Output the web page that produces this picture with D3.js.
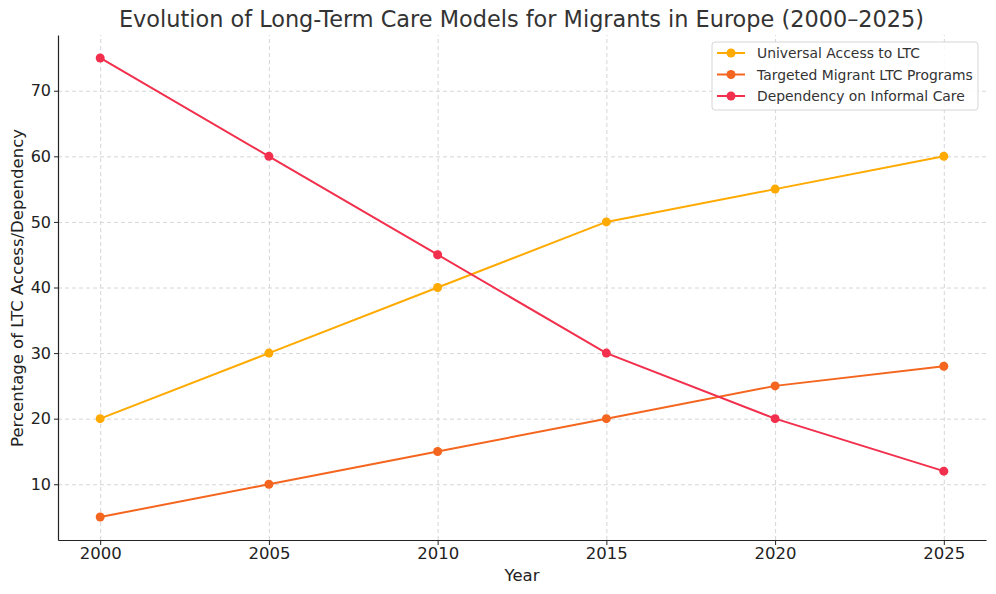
<!DOCTYPE html>
<html>
<head>
<meta charset="utf-8">
<script src="https://cdn.jsdelivr.net/npm/d3@7"></script>
<style>
  body { margin: 0; background: #fff; }
  svg { font-family: "DejaVu Sans", sans-serif; }
  .grid line { stroke: #cccccc; stroke-dasharray: 4,3; stroke-width: 0.8; }
  .grid path { display: none; }
</style>
</head>
<body>
<svg id="chart" width="996" height="594"></svg>
<script>
// data
const years = [2000, 2005, 2010, 2015, 2020, 2025];
const universalAccess = [20, 30, 40, 50, 55, 60];
const targetedPrograms = [5, 10, 15, 20, 25, 28];
const informalCare = [75, 60, 45, 30, 20, 12];
const yTicks = [10, 20, 30, 40, 50, 60, 70];

const seriesList = [
  { name: "Universal Access to LTC", values: universalAccess, color: "#ffaa00" },
  { name: "Targeted Migrant LTC Programs", values: targetedPrograms, color: "#f4661f" },
  { name: "Dependency on Informal Care", values: informalCare, color: "#f2304d" }
];

const svg = d3.select("#chart");
const m = { left: 58, right: 986, top: 35, bottom: 540 };

const x = d3.scaleLinear().domain([1998.75, 2026.25]).range([m.left, m.right]);
const y = d3.scaleLinear().domain([1.5, 78.5]).range([m.bottom, m.top]);

// grid
svg.append("g").attr("class", "grid")
  .attr("transform", `translate(0,${m.bottom})`)
  .call(d3.axisBottom(x).tickValues(years).tickSize(-(m.bottom - m.top)).tickFormat(""));
svg.append("g").attr("class", "grid")
  .attr("transform", `translate(${m.left},0)`)
  .call(d3.axisLeft(y).tickValues(yTicks).tickSize(-(m.right - m.left)).tickFormat(""));

// axes
const xAxis = svg.append("g")
  .attr("transform", `translate(0,${m.bottom})`)
  .call(d3.axisBottom(x).tickValues(years).tickFormat(d3.format("d"))
    .tickSize(5).tickSizeOuter(0).tickPadding(2));
const yAxis = svg.append("g")
  .attr("transform", `translate(${m.left},0)`)
  .call(d3.axisLeft(y).tickValues(yTicks).tickSize(4).tickSizeOuter(0).tickPadding(3));
[xAxis, yAxis].forEach(a => {
  a.select(".domain").attr("stroke", "#222").attr("stroke-width", 1.2);
  a.selectAll(".tick line").attr("stroke", "#222");
  a.selectAll("text").attr("fill", "#222").attr("font-family", "DejaVu Sans, sans-serif");
});
xAxis.selectAll("text").attr("font-size", 16.5);
yAxis.selectAll("text").attr("font-size", 16);

// lines + markers
const line = d3.line().x((d, i) => x(years[i])).y(d => y(d));
seriesList.forEach(s => {
  svg.append("path")
    .attr("d", line(s.values))
    .attr("fill", "none")
    .attr("stroke", s.color)
    .attr("stroke-width", 2);
  svg.append("g").selectAll("circle")
    .data(s.values)
    .enter().append("circle")
    .attr("cx", (d, i) => x(years[i]))
    .attr("cy", d => y(d))
    .attr("r", 4.5)
    .attr("fill", s.color);
});

// titles
svg.append("text")
  .attr("x", (m.left + m.right) / 2 - 0.5).attr("y", 27)
  .attr("text-anchor", "middle").attr("font-size", 22.4).attr("fill", "#333")
  .text("Evolution of Long-Term Care Models for Migrants in Europe (2000–2025)");
svg.append("text")
  .attr("x", (m.left + m.right) / 2).attr("y", 581)
  .attr("text-anchor", "middle").attr("font-size", 16.5).attr("fill", "#222")
  .text("Year");
svg.append("text")
  .attr("transform", `translate(23,288) rotate(-90)`)
  .attr("text-anchor", "middle").attr("font-size", 16.5).attr("fill", "#222")
  .text("Percentage of LTC Access/Dependency");

// legend
const lg = svg.append("g").attr("transform", "translate(712,42)");
lg.append("rect")
  .attr("width", 266).attr("height", 68).attr("rx", 3)
  .attr("fill", "#fff").attr("fill-opacity", 0.85)
  .attr("stroke", "#d6d6d6");
seriesList.forEach((s, i) => {
  const ly = 11 + i * 21.5;
  lg.append("line").attr("x1", 5).attr("x2", 33).attr("y1", ly).attr("y2", ly)
    .attr("stroke", s.color).attr("stroke-width", 2);
  lg.append("circle").attr("cx", 19).attr("cy", ly).attr("r", 4.5).attr("fill", s.color);
  lg.append("text").attr("x", 45).attr("y", ly + 5)
    .attr("font-size", 13.9).attr("fill", "#333").text(s.name);
});
</script>
</body>
</html>
